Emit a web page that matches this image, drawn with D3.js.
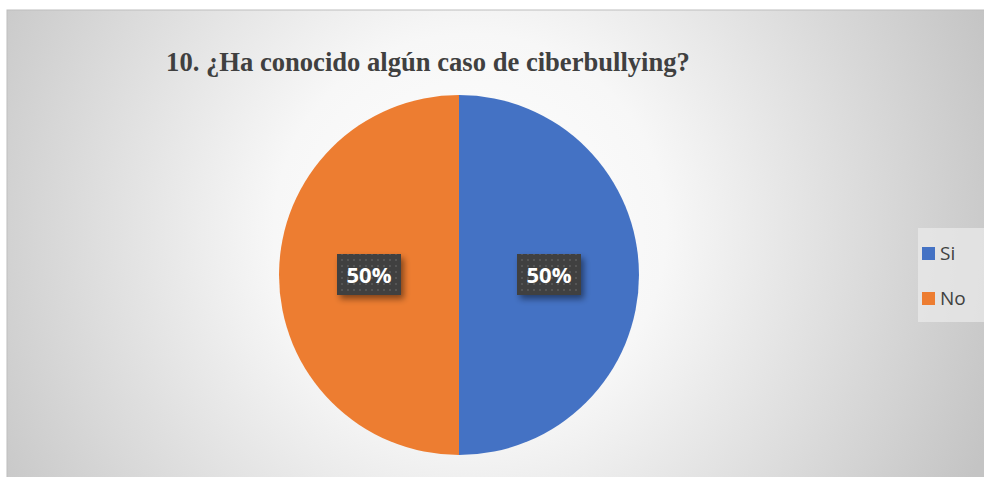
<!DOCTYPE html>
<html>
<head>
<meta charset="utf-8">
<script src="https://cdn.jsdelivr.net/npm/d3@7/dist/d3.min.js"></script>
<style>
  html, body { margin: 0; padding: 0; background: #fff; }
  svg { display: block; }
</style>
</head>
<body>
<svg id="chart" width="984" height="477"></svg>
<script>
// chart data
const title = '10. ¿Ha conocido algún caso de ciberbullying?';
const categories = ['Si', 'No'];
const values = [50, 50];
const colors = ['#4472C4', '#ED7D31'];

const svg = d3.select('#chart');
const defs = svg.append('defs');

// background: soft radial gradient
const bg = defs.append('radialGradient').attr('id', 'bg')
  .attr('gradientUnits', 'userSpaceOnUse')
  .attr('cx', 470).attr('cy', 230).attr('r', 560);
bg.append('stop').attr('offset', '0%').attr('stop-color', '#ffffff');
bg.append('stop').attr('offset', '35%').attr('stop-color', '#f7f7f7');
bg.append('stop').attr('offset', '100%').attr('stop-color', '#c4c4c4');

// dotted pattern for label boxes
const pat = defs.append('pattern').attr('id', 'dots')
  .attr('width', 6).attr('height', 6).attr('patternUnits', 'userSpaceOnUse');
pat.append('rect').attr('width', 6).attr('height', 6).attr('fill', '#404040');
pat.append('rect').attr('x', 2).attr('y', 2).attr('width', 2).attr('height', 2).attr('fill', '#555');

const shadow = defs.append('filter').attr('id', 'shadow')
  .attr('x', '-30%').attr('y', '-30%').attr('width', '170%').attr('height', '180%');
shadow.append('feDropShadow').attr('dx', 3).attr('dy', 4).attr('stdDeviation', 3)
  .attr('flood-color', '#000').attr('flood-opacity', 0.45);

svg.append('rect').attr('x', 7).attr('y', 10).attr('width', 990).attr('height', 480)
  .attr('fill', 'url(#bg)').attr('stroke', '#bdbdbd').attr('stroke-width', 1);

svg.append('text')
  .attr('x', 428).attr('y', 71)
  .attr('text-anchor', 'middle')
  .attr('font-family', '"Liberation Serif", "Times New Roman", serif')
  .attr('font-weight', 'bold')
  .attr('font-size', 26.6)
  .attr('fill', '#404040')
  .text(title);

const cx = 459, cy = 275, r = 180;
const pie = d3.pie().sort(null).value(d => d)(values);
const arc = d3.arc().innerRadius(0).outerRadius(r);
const labelArc = d3.arc().innerRadius(r * 0.5).outerRadius(r * 0.5);

const g = svg.append('g').attr('transform', `translate(${cx},${cy})`);
g.selectAll('path.slice').data(pie).join('path')
  .attr('class', 'slice')
  .attr('d', arc)
  .attr('fill', (d, i) => colors[i]);

const total = d3.sum(values);
const lab = g.selectAll('g.lab').data(pie).join('g')
  .attr('class', 'lab')
  .attr('transform', d => { const [x] = labelArc.centroid(d); return `translate(${x},0)`; });
lab.append('rect')
  .attr('x', -32).attr('y', -21).attr('width', 64).attr('height', 41)
  .attr('fill', 'url(#dots)').attr('filter', 'url(#shadow)');
lab.append('text')
  .attr('text-anchor', 'middle').attr('y', 8)
  .attr('font-family', '"Open Sans", "Noto Sans", sans-serif')
  .attr('font-weight', 'bold').attr('font-size', 22)
  .attr('fill', '#fff')
  .text(d => Math.round(d.value / total * 100) + '%');

// legend
const leg = svg.append('g');
leg.append('rect').attr('x', 918).attr('y', 228).attr('width', 70).attr('height', 94)
  .attr('fill', '#ebebeb').attr('opacity', 0.7);
const li = leg.selectAll('g.li').data(categories).join('g')
  .attr('class', 'li')
  .attr('transform', (d, i) => `translate(922,${247 + i * 45})`);
li.append('rect').attr('width', 13).attr('height', 13).attr('fill', (d, i) => colors[i]);
li.append('text').attr('x', 18).attr('y', 13)
  .attr('font-family', '"Open Sans", "Noto Sans", sans-serif')
  .attr('font-size', 19).attr('fill', '#404040')
  .text(d => d);
</script>
</body>
</html>
